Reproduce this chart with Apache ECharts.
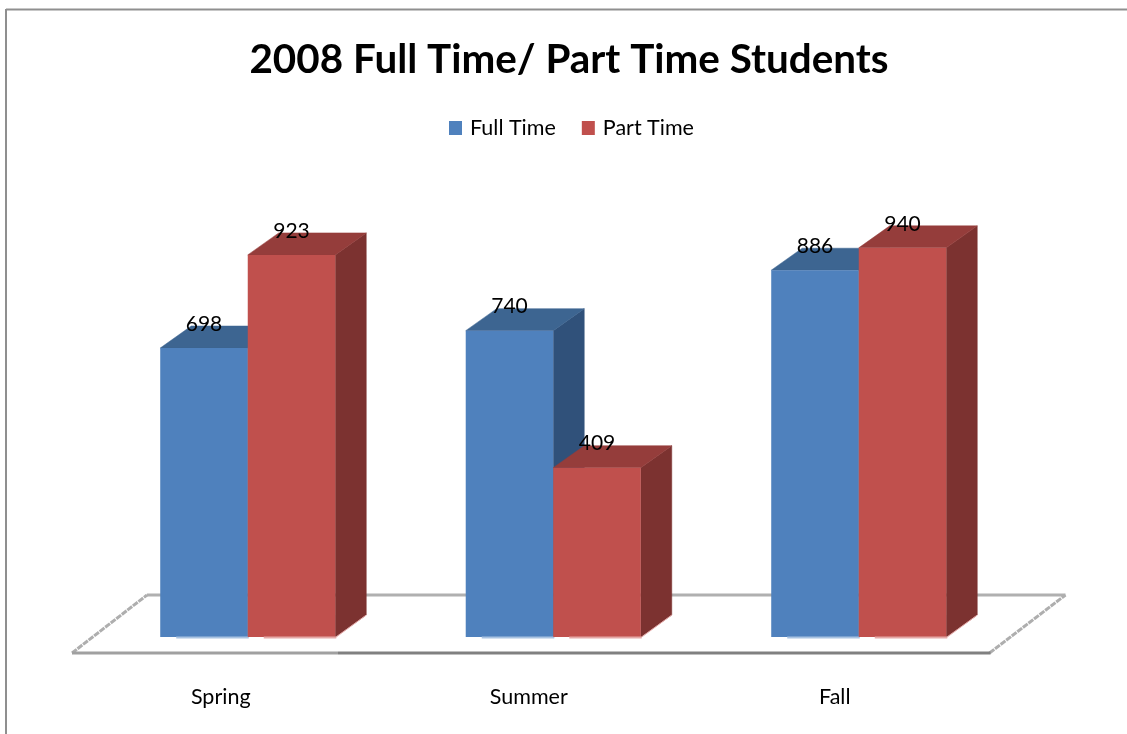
<!DOCTYPE html>
<html>
<head>
<meta charset="utf-8">
<title>2008 Full Time/ Part Time Students</title>
<script src="https://cdn.jsdelivr.net/npm/echarts@6/dist/echarts.min.js"></script>
<style>
  html, body { margin: 0; padding: 0; background: #fff; }
  #chart { width: 1127px; height: 734px; }
</style>
</head>
<body>
<div id="chart"></div>
<script>
const categories = ['Spring', 'Summer', 'Fall']
const fullTime = [698, 740, 886]
const partTime = [923, 409, 940]

// the labels sit left of the band centre in the original, by a different amount each
const labelShift = [27, 24.5, 24]

const fontFamily = 'Lato, "Open Sans", sans-serif'
const barShare = 0.2865
const depthX = 31
const depthY = 22

const chart = echarts.init(document.getElementById('chart'))

function polygon(points, fill, stroke) {
  return {
    type: 'polygon',
    shape: { points: points },
    style: { fill: fill, stroke: stroke || fill, lineWidth: 0.5 }
  }
}

function line(x1, y1, x2, y2, color, width, dash) {
  return {
    type: 'line',
    shape: { x1: x1, y1: y1, x2: x2, y2: y2 },
    style: { stroke: color, lineWidth: width, lineDash: dash || null }
  }
}

function barRenderer(side, front, top, right, glow) {
  return function(params, api) {
    const cat = api.value(0)
    const value = api.value(1)
    const topPt = api.coord([cat, value])
    const basePt = api.coord([cat, 0])
    const w = api.size([1, 0])[0] * barShare
    const x = side < 0 ? topPt[0] - w : topPt[0]
    const y = topPt[1]
    const yb = basePt[1]
    return {
      type: 'group',
      children: [
        polygon([[x + w, y], [x + w + depthX, y - depthY], [x + w + depthX, yb - depthY], [x + w, yb]], right),
        polygon([[x, y], [x + depthX, y - depthY], [x + w + depthX, y - depthY], [x + w, y]], top),
        { type: 'rect', shape: { x: x, y: y, width: w, height: yb - y }, style: { fill: front } },
        line(x + 16, yb + 0.5, x + w + 1, yb + 0.5, glow, 2),
        line(x + w + 1, yb, x + w + depthX, yb - depthY, glow, 1),
        {
          type: 'text',
          z2: 10,
          style: {
            x: x + w / 2,
            y: y - 24,
            text: String(value),
            fill: '#000',
            font: '21px ' + fontFamily,
            align: 'center',
            verticalAlign: 'middle'
          }
        }
      ]
    }
  }
}

function floorRenderer(params) {
  const c = params.coordSys
  const bottom = c.y + c.height
  const frontY = bottom + 16
  const backY = bottom - 42
  return {
    type: 'group',
    children: [
      line(c.x + 52, backY, c.x + c.width + 54, backY, '#b0b0b0', 3),
      line(c.x - 23, frontY, c.x + 52, backY, '#aeaeae', 3, [6, 1]),
      line(c.x + c.width - 22, frontY, c.x + c.width + 54, backY, '#aeaeae', 3, [6, 1]),
      line(c.x - 23, frontY, c.x + 243, frontY, '#a0a0a0', 3),
      line(c.x + 243, frontY, c.x + c.width - 21, frontY, '#808080', 3)
    ]
  }
}

const option = {
  animation: false,
  backgroundColor: '#fff',
  title: {
    text: '2008 Full Time/ Part Time Students',
    left: 564,
    top: 35,
    textAlign: 'center',
    textStyle: { fontFamily: fontFamily, fontSize: 40.4, fontWeight: 'bold', color: '#000' }
  },
  legend: {
    data: ['Full Time', 'Part Time'],
    left: 444,
    top: 112,
    icon: 'rect',
    itemWidth: 13,
    itemHeight: 14,
    itemGap: 26,
    textStyle: { fontFamily: fontFamily, fontSize: 21.5, color: '#000', padding: [0, 0, 0, 3] }
  },
  grid: { left: 95, top: 223, width: 916.5, height: 414 },
  xAxis: {
    type: 'category',
    data: categories.map((name, i) => ({
      value: name,
      textStyle: { padding: [0, labelShift[i] * 2, 0, 0] }
    })),
    axisLine: { show: false },
    axisTick: { show: false },
    axisLabel: { margin: 49, fontFamily: fontFamily, fontSize: 21.5, color: '#000' }
  },
  yAxis: { type: 'value', min: 0, max: 1000, show: false },
  graphic: [
    { type: 'line', shape: { x1: 6, y1: 9.5, x2: 1127, y2: 9.5 }, style: { stroke: '#8f8f8f', lineWidth: 2 } },
    { type: 'line', shape: { x1: 6, y1: 9, x2: 6, y2: 734 }, style: { stroke: '#8f8f8f', lineWidth: 2 } }
  ],
  series: [
    {
      name: 'floor',
      type: 'custom',
      z: 1,
      silent: true,
      clip: false,
      renderItem: floorRenderer,
      data: [[0, 0]]
    },
    {
      name: 'Full Time',
      type: 'custom',
      z: 2,
      clip: false,
      itemStyle: { color: '#4f81bd' },
      renderItem: barRenderer(-1, '#4f81bd', '#3d6591', '#30517a', '#a9c3e2'),
      encode: { x: 0, y: 1 },
      data: fullTime.map((v, i) => [i, v])
    },
    {
      name: 'Part Time',
      type: 'custom',
      z: 3,
      clip: false,
      itemStyle: { color: '#c0504d' },
      renderItem: barRenderer(1, '#c0504d', '#953d3b', '#7c3230', '#e5a9a8'),
      encode: { x: 0, y: 1 },
      data: partTime.map((v, i) => [i, v])
    }
  ]
}

chart.setOption(option)
window.addEventListener('resize', function() {
  chart.resize()
})
</script>
</body>
</html>
